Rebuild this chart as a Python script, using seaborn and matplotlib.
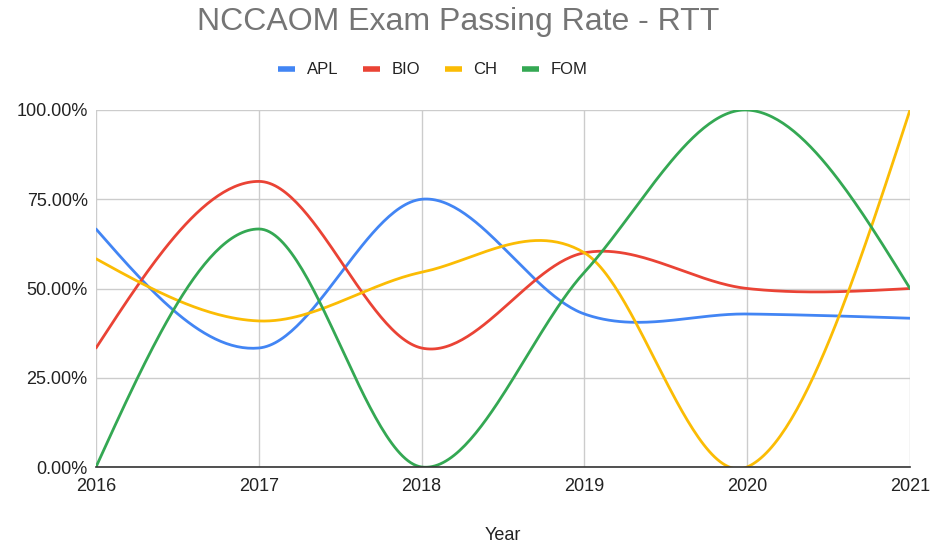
import numpy as np
import pandas as pd
import matplotlib
matplotlib.use("Agg")
import matplotlib.pyplot as plt
import seaborn as sns
from matplotlib.ticker import FuncFormatter
from matplotlib.lines import Line2D

years = [2016, 2017, 2018, 2019, 2020, 2021]
apl = [66.67, 33.33, 75.00, 42.86, 42.86, 41.67]
bio = [33.33, 80.00, 33.33, 60.00, 50.00, 50.00]
ch = [58.33, 40.91, 54.55, 60.00, 0.00, 100.00]
fom = [0.00, 66.67, 0.00, 54.55, 100.00, 50.00]
series_names = ["APL", "BIO", "CH", "FOM"]
series_values = [apl, bio, ch, fom]
colors = ["#4285F4", "#EA4335", "#FBBC04", "#34A853"]
y_ticks = [0, 25, 50, 75, 100]


def smooth_curve(xs, ys, n=60):
    """Render a smooth (cardinal/Catmull-Rom style) curve through the data points."""
    xs = np.asarray(xs, float)
    ys = np.asarray(ys, float)
    k = len(xs)
    h = np.diff(xs)
    m = np.zeros(k)
    for i in range(1, k - 1):
        m[i] = (ys[i + 1] - ys[i - 1]) / (xs[i + 1] - xs[i - 1])
    m[0] = (3 * (ys[1] - ys[0]) / h[0] - m[1]) / 2
    m[-1] = (3 * (ys[-1] - ys[-2]) / h[-1] - m[-2]) / 2
    out_x, out_y = [], []
    for i in range(k - 1):
        t = np.linspace(0, 1, n, endpoint=(i == k - 2))
        h00 = 2 * t**3 - 3 * t**2 + 1
        h10 = t**3 - 2 * t**2 + t
        h01 = -2 * t**3 + 3 * t**2
        h11 = t**3 - t**2
        yy = h00 * ys[i] + h10 * h[i] * m[i] + h01 * ys[i + 1] + h11 * h[i] * m[i + 1]
        out_x.append(xs[i] + t * h[i])
        out_y.append(yy)
    return np.concatenate(out_x), np.concatenate(out_y)


frames = []
for name, vals in zip(series_names, series_values):
    sx, sy = smooth_curve(years, vals)
    frames.append(pd.DataFrame({"Year": sx, "Rate": sy, "Series": name}))
df = pd.concat(frames, ignore_index=True)

sns.set_theme(style="white")
plt.rcParams["font.family"] = ["Liberation Sans", "DejaVu Sans"]

fig = plt.figure(figsize=(9.34, 5.43), dpi=100)
ax = fig.add_axes([96 / 934, 1 - 467 / 543, (910 - 96) / 934, (467 - 110) / 543])

sns.lineplot(data=df, x="Year", y="Rate", hue="Series", palette=colors,
             hue_order=series_names, linewidth=2.0, ax=ax, legend=False,
             sort=False, estimator=None)

ax.set_xlim(years[0], years[-1])
ax.set_ylim(0, 100)
ax.set_xticks(years)
ax.set_xticklabels([str(y) for y in years])
ax.set_yticks(y_ticks)
ax.yaxis.set_major_formatter(FuncFormatter(lambda v, p: f"{v:.2f}%"))
ax.grid(True, color="#cccccc", linewidth=1.0)
ax.set_axisbelow(True)
for side in ["top", "right", "left"]:
    ax.spines[side].set_visible(False)
ax.spines["bottom"].set_color("#333333")
ax.spines["bottom"].set_linewidth(1.2)
ax.tick_params(axis="both", length=0, labelsize=13, colors="#222222", pad=6)
ax.tick_params(axis="x", pad=8)
ax.set_xlabel("Year", fontsize=13, color="#222222", labelpad=23)
ax.set_ylabel("")

fig.text(458 / 934, 1 - 22 / 543, "NCCAOM Exam Passing Rate - RTT", ha="center",
         va="center", fontsize=23, color="#757575")

handles = [Line2D([0], [0], color=c, linewidth=4, solid_capstyle="butt") for c in colors]
fig.legend(handles, series_names, loc="center", bbox_to_anchor=(433 / 934, 1 - 70 / 543),
           ncol=4, frameon=False, fontsize=12, handlelength=1.0, handletextpad=0.7,
           columnspacing=1.5, labelcolor="#222222")

fig.savefig("out.png", dpi=100)
